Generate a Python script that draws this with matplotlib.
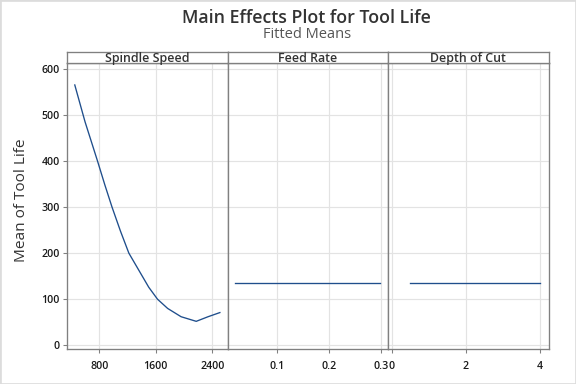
import numpy as np
import matplotlib
matplotlib.use("Agg")
import matplotlib.pyplot as plt
from matplotlib.patches import Rectangle

plt.rcParams['font.family'] = ['Open Sans', 'DejaVu Sans']

# main effects values
speed = [455, 600, 776, 880, 981, 1100, 1219, 1386, 1500, 1624, 1767, 1957, 2171, 2338, 2505]
speed_life = [565, 485, 400, 348, 300, 248, 200, 156, 126, 100, 80, 62, 52, 62, 71]
feed = [0.02, 0.298]
feed_life = [136, 136]
depth = [0.5, 4]
depth_life = [136, 136]

panel_names = ["Spindle Speed", "Feed Rate", "Depth of Cut"]
xs = [speed, feed, depth]
ys = [speed_life, feed_life, depth_life]
xticks = [[800, 1600, 2400], [0.1, 0.2, 0.3], [0, 2, 4]]
xticklabels = [["800", "1600", "2400"], ["0.1", "0.2", "0.3"], ["0", "2", "4"]]
xlims = [(338, 2617), (0.0054, 0.313), (-0.11, 4.23)]
yticks = [0, 100, 200, 300, 400, 500, 600]

W, H = 576, 384
fig = plt.figure(figsize=(6, 4), dpi=96)
fig.patch.set_facecolor("white")
fig.add_artist(Rectangle((0, 0), 1, 1, transform=fig.transFigure, fill=False,
                         edgecolor="#dcdcdc", linewidth=2))

edges = [66.5, 227.8, 387.6, 548.5]
top, bot, strip_top = 63.3, 349.3, 51.7
frame = "#808080"
line_col = "#1f4e8c"

for i in range(3):
    l = edges[i] / W
    w = (edges[i + 1] - edges[i]) / W
    ax = fig.add_axes([l, (H - bot) / H, w, (bot - top) / H])
    ax.plot(xs[i], ys[i], color=line_col, linewidth=1.0)
    ax.set_xlim(*xlims[i])
    ax.set_ylim(-8.7, 612)
    ax.set_xticks(xticks[i])
    ax.set_xticklabels(xticklabels[i])
    ax.set_yticks(yticks)
    ax.grid(True, color="#e3e3e3", linewidth=0.9)
    ax.set_axisbelow(True)
    for s in ax.spines.values():
        s.set_color(frame)
        s.set_linewidth(1.0)
    ax.tick_params(axis="x", length=3, color=frame, labelsize=8, pad=6,
                   labelcolor="#1a1a1a")
    if i == 0:
        ax.tick_params(axis="y", length=3, color=frame, labelsize=8, pad=2,
                       labelcolor="#1a1a1a")
        ax.set_ylabel("Mean of Tool Life", fontsize=11.5, color="#333333")
        ax.yaxis.set_label_coords(-0.232, 0.522)
    else:
        ax.tick_params(axis="y", length=0, labelleft=False)
    for lab in ax.get_xticklabels() + ax.get_yticklabels():
        lab.set_fontweight("semibold")

    sax = fig.add_axes([l, (H - top) / H, w, (top - strip_top) / H])
    sax.set_xticks([])
    sax.set_yticks([])
    for s in sax.spines.values():
        s.set_color(frame)
        s.set_linewidth(1.0)
    sax.text(0.5, 0.45, panel_names[i], ha="center", va="center",
             fontsize=9.3, color="#333333", fontweight="semibold",
             transform=sax.transAxes)

fig.text(306 / W, 1 - 18 / H, "Main Effects Plot for Tool Life", ha="center",
         va="center", fontsize=13.3, color="#333333", fontweight="semibold")
fig.text(307 / W, 1 - 34 / H, "Fitted Means", ha="center", va="center",
         fontsize=11, color="#555555")

fig.savefig("out.png", dpi=96)
